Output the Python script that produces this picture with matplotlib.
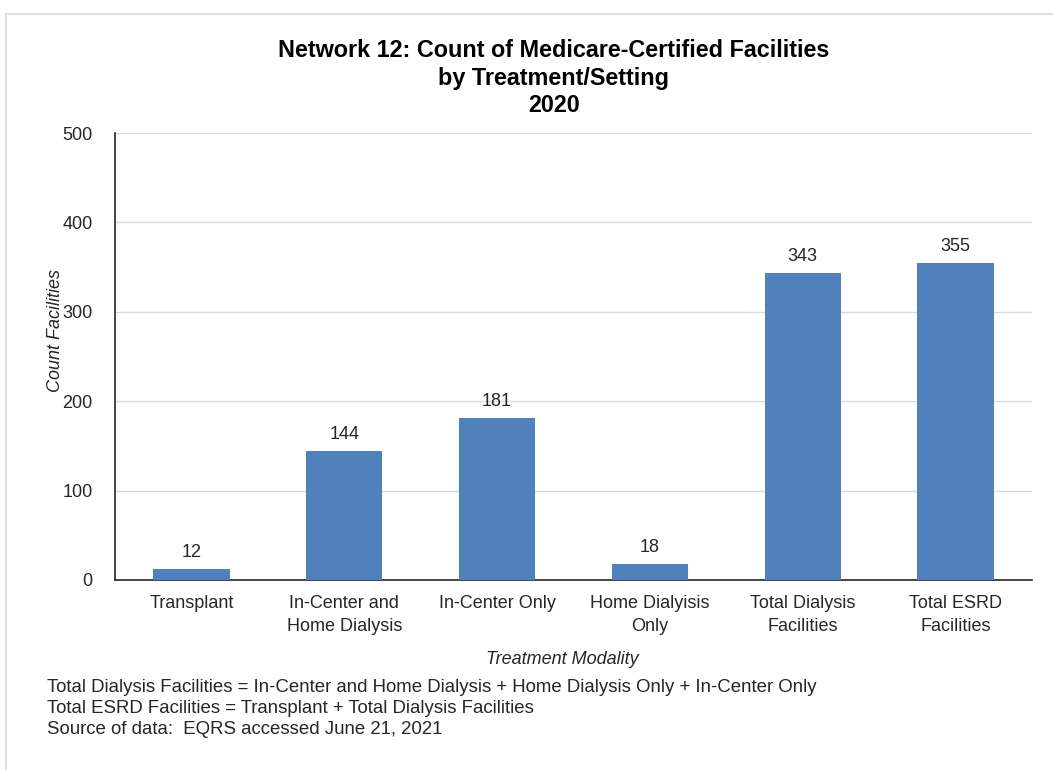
import matplotlib.pyplot as plt
from matplotlib.patches import Rectangle

plt.rcParams['font.family'] = ['Liberation Sans', 'DejaVu Sans']

categories = ['Transplant', 'In-Center and\nHome Dialysis', 'In-Center Only',
              'Home Dialyisis\nOnly', 'Total Dialysis\nFacilities', 'Total ESRD\nFacilities']
counts = [12, 144, 181, 18, 343, 355]
yticks = [0, 100, 200, 300, 400, 500]

title_lines = ['Network 12: Count of Medicare-Certified Facilities',
               'by Treatment/Setting', '2020']
notes = [
    'Total Dialysis Facilities = In-Center and Home Dialysis + Home Dialysis Only + In-Center Only',
    'Total ESRD Facilities = Transplant + Total Dialysis Facilities',
    'Source of data:  EQRS accessed June 21, 2021',
]

W, H = 1053, 770
fig = plt.figure(figsize=(W / 100, H / 100), dpi=100)

# light frame of the chart box
fig.patches.append(Rectangle((6 / W, -0.1), 1.2, 1.1 - 14 / H, transform=fig.transFigure,
                             fill=False, edgecolor='#d9d9d9', linewidth=1.2))

ax = fig.add_axes([115 / W, 1 - 580 / H, 917 / W, 447 / H])
x = range(len(categories))
ax.bar(x, counts, width=0.5, color='#4F81BD', zorder=3)
for xi, v in zip(x, counts):
    ax.text(xi, v + 9, str(v), ha='center', va='bottom', fontsize=13, color='#262626')

ax.set_xlim(-0.5, len(categories) - 0.5)
ax.set_ylim(0, 500)
ax.set_yticks(yticks)
ax.set_xticks(list(x))
ax.set_xticklabels(categories, fontsize=13, color='#262626', linespacing=1.45)
ax.tick_params(axis='y', length=0, labelsize=13, labelcolor='#262626', pad=16)
ax.tick_params(axis='x', length=0, pad=11)
ax.grid(axis='y', color='#d9d9d9', linewidth=1, zorder=0)
for s in ['top', 'right']:
    ax.spines[s].set_visible(False)
for s in ['left', 'bottom']:
    ax.spines[s].set_color('#262626')
    ax.spines[s].set_linewidth(1.2)

fig.text(55 / W, 1 - 330 / H, 'Count Facilities', rotation=90, ha='center', va='center',
         fontsize=13, style='italic', color='#262626')

for i, line in enumerate(title_lines):
    fig.text(554 / W, 1 - (57 + 27.5 * i) / H, line, ha='center', va='baseline',
             fontsize=16.8, fontweight='bold')
fig.text(562 / W, 1 - 660 / H, 'Treatment Modality', ha='center', va='center',
         fontsize=13, style='italic', color='#262626')
for i, line in enumerate(notes):
    fig.text(47 / W, 1 - (688 + 20.5 * i) / H, line, ha='left', va='center',
             fontsize=13.4, color='#262626')

fig.savefig('out.png', dpi=100)
